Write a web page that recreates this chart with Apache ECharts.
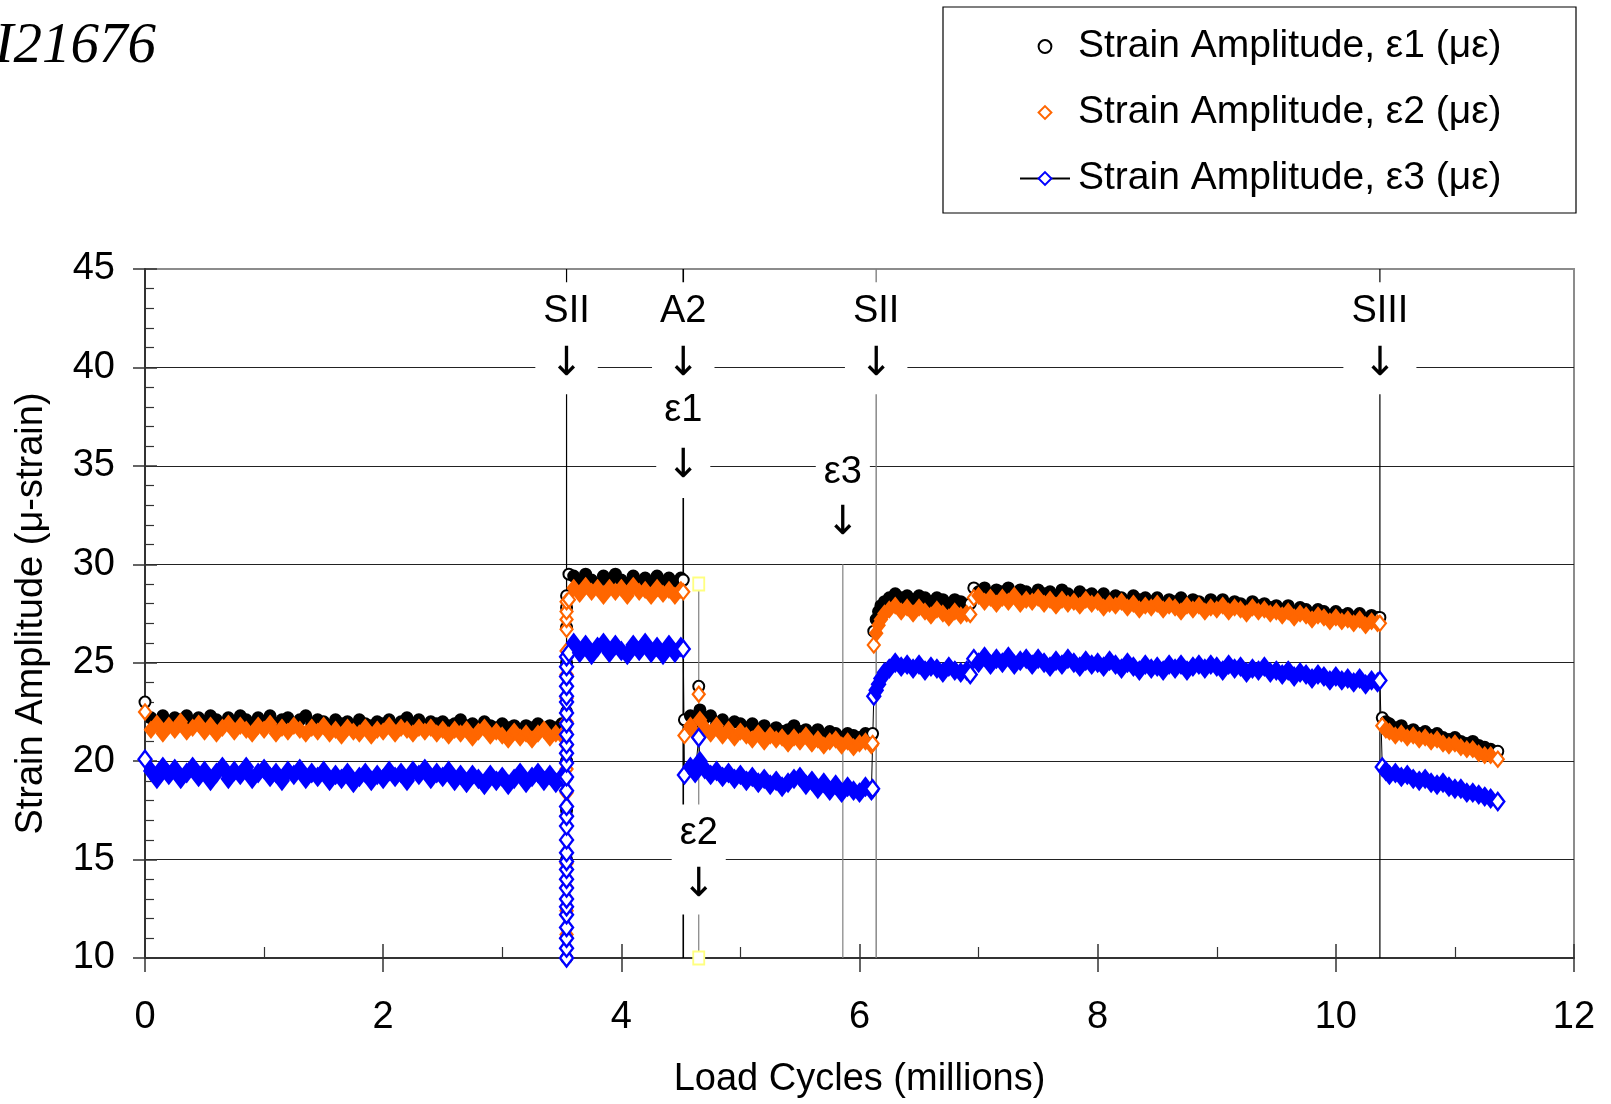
<!DOCTYPE html>
<html><head><meta charset="utf-8">
<script src="https://cdn.jsdelivr.net/npm/echarts@6/dist/echarts.min.js"></script>
<style>html,body{margin:0;padding:0;background:#fff}#chart{width:1611px;height:1104px}</style>
</head><body><div id="chart"></div>
<script>
// ---------- DATA (load cycles in millions, strain amplitude in micro-strain) ----------
const cyclesA = [0.00,0.05,0.10,0.15,0.20,0.25,0.30,0.35,0.40,0.45,
0.50,0.55,0.60,0.65,0.70,0.75,0.80,0.85,0.90,0.95,
1.00,1.05,1.10,1.15,1.20,1.25,1.30,1.35,1.40,1.45,
1.50,1.55,1.60,1.65,1.70,1.75,1.80,1.85,1.90,1.95,
2.00,2.05,2.10,2.15,2.20,2.25,2.30,2.35,2.40,2.45,
2.50,2.55,2.60,2.65,2.70,2.75,2.80,2.85,2.90,2.95,
3.00,3.05,3.10,3.15,3.20,3.25,3.30,3.35,3.40,3.45,
3.50,3.53];
const e1A = [23.0,22.2,22.0,22.3,21.9,22.2,22.1,22.3,21.9,22.2,
22.0,22.3,22.1,21.9,22.2,22.0,22.3,22.1,21.9,22.2,
22.0,22.3,21.9,22.1,22.2,21.9,22.1,22.3,21.9,22.1,
22.0,21.8,22.1,21.9,22.0,21.8,22.1,21.9,21.8,22.0,
21.9,22.1,21.8,22.0,22.2,21.9,22.1,21.8,22.0,21.9,
22.0,21.8,21.9,22.1,21.8,21.9,21.7,22.0,21.8,21.7,
21.9,21.7,21.8,21.6,21.8,21.7,21.9,21.6,21.8,21.7,
21.9,21.8];
const e2A = [22.5,21.6,21.9,21.4,21.8,21.6,22.0,21.5,21.7,21.9,
21.5,21.8,21.4,21.7,21.9,21.5,21.8,21.6,21.4,21.8,
21.6,21.9,21.4,21.7,21.5,21.8,21.6,21.4,21.7,21.5,
21.8,21.4,21.6,21.3,21.7,21.5,21.4,21.7,21.3,21.6,
21.5,21.8,21.4,21.7,21.6,21.4,21.7,21.5,21.7,21.4,
21.6,21.3,21.6,21.4,21.6,21.2,21.5,21.7,21.3,21.5,
21.3,21.1,21.5,21.2,21.4,21.1,21.4,21.6,21.2,21.4,
21.3,21.5];
const e3A = [20.1,19.5,19.1,19.7,19.3,19.6,19.1,19.4,19.7,19.2,
19.5,19.0,19.4,19.7,19.1,19.5,19.3,19.7,19.1,19.4,
19.6,19.2,19.4,19.0,19.5,19.3,19.6,19.1,19.4,19.2,
19.5,19.0,19.3,19.1,19.4,18.9,19.2,19.4,19.0,19.3,
19.1,19.5,19.2,19.4,19.0,19.5,19.3,19.6,19.1,19.4,
19.2,19.5,19.0,19.3,18.9,19.3,19.1,18.8,19.3,19.0,
19.2,18.8,19.1,19.4,18.9,19.2,19.4,19.0,19.3,18.9,
19.2,19.1];

// readings taken during the load step at 3.54 million cycles
const jumpCycle = 3.54;
const jumpE1 = [10.0,12.5,15.0,17.5,20.0,22.5,25.0,26.8,27.8,28.4];
const jumpE2 = [10.0,11.2,12.4,13.6,14.8,16.0,17.2,18.4,19.6,20.8,22.0,23.2,24.4,25.6,26.7,27.2,27.6,28.1];
const jumpE3 = [10.0,10.5,11.0,11.55,12.2,12.6,13.0,13.55,14.0,14.5,14.9,15.35,16.0,16.7,17.2,17.7,18.5,19.2,19.9,20.4,20.85,21.35,21.9,22.45,23.0,23.3,23.8,24.3,24.8,25.3];

const cyclesC = [3.56,3.60,3.65,3.70,3.75,3.80,3.85,3.90,3.95,4.00,4.05,4.10,4.15,4.20,4.25,4.30,4.35,4.40,4.45,4.50,4.52];
const e1C = [29.5,29.4,29.1,29.5,29.2,29.0,29.4,29.1,29.5,29.2,29.0,29.4,29.1,29.3,29.0,29.4,29.1,29.3,29.0,29.3,29.2];
const e2C = [28.2,28.8,28.5,28.9,28.6,28.8,28.4,28.8,28.6,28.8,28.4,28.9,28.6,28.7,28.4,28.8,28.5,28.7,28.4,28.7,28.6];
const e3C = [25.5,26.0,25.5,25.9,25.4,25.8,26.0,25.5,25.9,25.6,25.4,25.9,25.6,26.0,25.5,25.8,25.4,25.9,25.5,25.8,25.7];

const cyclesD = [4.53,4.58,4.62,4.65,4.66,4.70,4.75,4.80,4.85,4.90,4.95,5.00,5.05,5.10,5.15,5.20,5.25,5.30,5.35,5.40,5.45,5.50,5.55,5.60,5.65,5.70,5.75,5.80,5.85,5.90,5.95,6.00,6.05,6.10,6.11];
const e1D = [22.1,22.3,21.9,23.8,22.6,22.2,22.3,21.9,22.1,21.8,22.0,21.9,21.7,21.9,21.6,21.8,21.5,21.7,21.5,21.6,21.8,21.5,21.6,21.4,21.6,21.3,21.5,21.4,21.2,21.4,21.3,21.2,21.4,21.3,21.4];
const e2D = [21.3,21.8,21.4,23.4,22.1,21.7,21.4,21.8,21.3,21.6,21.2,21.5,21.3,21.1,21.4,21.0,21.3,21.1,21.2,20.9,21.2,21.0,21.3,20.9,21.1,20.8,21.0,21.1,20.8,21.0,20.7,20.9,21.0,20.8,20.9];
const e3D = [19.3,19.7,19.4,21.2,20.0,19.6,19.3,19.5,19.2,19.4,19.1,19.3,19.0,19.2,18.9,19.1,18.8,19.0,18.7,18.9,19.1,19.2,18.8,19.0,18.6,18.9,18.5,18.8,18.4,18.7,18.5,18.4,18.7,18.5,18.6];

const cyclesE = [6.12,6.14,6.16,6.18,6.21,6.25,6.30,6.35,6.40,6.45,6.50,6.55,6.60,6.65,6.70,6.75,6.80,6.85,6.90,6.93];
const e1E = [26.6,27.2,27.6,27.9,28.1,28.3,28.5,28.3,28.4,28.2,28.4,28.3,28.1,28.3,28.2,28.0,28.2,28.1,27.9,28.0];
const e2E = [25.9,26.5,26.9,27.2,27.5,27.7,27.9,27.6,27.8,27.5,27.8,27.6,27.4,27.7,27.5,27.3,27.6,27.4,27.5,27.45];
const e3E = [23.3,23.6,23.9,24.2,24.5,24.7,25.0,24.8,24.9,24.7,24.9,24.6,24.8,24.7,24.5,24.8,24.6,24.5,24.6,24.4];

const cyclesF = [6.96,
7.00,7.05,7.10,7.15,7.20,7.25,7.30,7.35,7.40,7.45,
7.50,7.55,7.60,7.65,7.70,7.75,7.80,7.85,7.90,7.95,
8.00,8.05,8.10,8.15,8.20,8.25,8.30,8.35,8.40,8.45,
8.50,8.55,8.60,8.65,8.70,8.75,8.80,8.85,8.90,8.95,
9.00,9.05,9.10,9.15,9.20,9.25,9.30,9.35,9.40,9.45,
9.50,9.55,9.60,9.65,9.70,9.75,9.80,9.85,9.90,9.95,
10.00,10.05,10.10,10.15,10.20,10.25,10.30,10.35,
10.37];
const e1F = [28.8,
28.6,28.8,28.5,28.7,28.6,28.8,28.5,28.7,28.6,28.4,
28.7,28.5,28.6,28.4,28.7,28.5,28.3,28.6,28.4,28.5,
28.3,28.5,28.2,28.4,28.3,28.1,28.4,28.2,28.3,28.1,
28.3,28.0,28.2,28.1,28.3,28.0,28.2,28.1,27.9,28.2,
28.0,28.2,27.9,28.1,28.0,27.8,28.1,27.9,28.0,27.8,
27.9,27.7,27.9,27.6,27.8,27.7,27.5,27.7,27.6,27.4,
27.6,27.4,27.5,27.3,27.5,27.2,27.4,27.3,
27.3];
const e2F = [28.3,
28.4,28.1,28.3,28.0,28.3,28.1,28.4,28.0,28.2,28.1,
28.3,28.0,28.2,27.9,28.2,28.0,28.1,27.9,28.2,28.0,
28.1,27.8,28.0,27.9,28.1,27.8,28.0,27.7,27.9,27.8,
28.0,27.7,27.9,27.8,27.6,27.9,27.7,27.9,27.6,27.8,
27.7,27.9,27.6,27.8,27.7,27.5,27.8,27.6,27.7,27.5,
27.6,27.4,27.6,27.3,27.5,27.4,27.2,27.4,27.3,27.1,
27.3,27.1,27.2,27.0,27.2,26.9,27.1,27.0,
27.0];
const e3F = [25.2,
25.0,25.3,24.9,25.2,25.0,25.3,24.9,25.1,25.2,24.9,
25.2,25.0,24.8,25.1,24.9,25.2,25.0,24.8,25.1,24.9,
25.0,24.8,25.1,24.9,24.7,25.0,24.8,24.6,24.9,24.7,
24.8,24.6,24.9,24.7,24.9,24.6,24.8,24.9,24.7,24.9,
24.8,24.6,24.9,24.7,24.8,24.5,24.7,24.6,24.8,24.5,
24.6,24.4,24.6,24.3,24.5,24.4,24.2,24.4,24.3,24.1,
24.3,24.1,24.2,24.0,24.2,23.9,24.1,24.0,
24.1];

const cyclesG = [10.39,10.42,10.45,10.50,10.55,10.60,10.65,10.70,10.75,10.80,10.85,10.90,10.95,11.00,11.05,11.10,11.15,11.20,11.25,11.30,11.36];
const e1G = [22.2,22.0,21.9,21.7,21.8,21.5,21.6,21.4,21.5,21.3,21.4,21.2,21.1,21.2,21.0,20.9,21.0,20.8,20.7,20.6,20.5];
const e2G = [21.8,21.6,21.5,21.3,21.4,21.2,21.3,21.1,21.2,21.0,21.1,20.9,20.8,20.9,20.7,20.6,20.6,20.4,20.3,20.3,20.1];
const e3G = [19.7,19.5,19.3,19.4,19.2,19.3,19.1,19.0,19.1,18.9,18.8,18.9,18.7,18.6,18.6,18.4,18.4,18.3,18.2,18.1,17.95];

// event markers (load cycles) and their labels
const eventCycles = [3.54, 4.52, 6.14, 10.37];
const eventLabels = ['SII', 'A2', 'SII', 'SIII'];
const gaugeCycles = [4.52, 5.86, 4.65];     // ε1, ε3, ε2 change points
const gaugeLabels = ['ε1', 'ε3', 'ε2'];
const gaugeLineTop = [null, 30, 29];        // ε3 and ε2 reference lines start here
const seriesNames = ['Strain Amplitude, ε1 (με)', 'Strain Amplitude, ε2 (με)', 'Strain Amplitude, ε3 (με)'];
const xTicks = {min: 0, max: 12, step: 2};
const yTicks = {min: 10, max: 45, step: 5};

// ---------- BUILD ----------
const FONT = '"Liberation Sans", Arial, Helvetica, sans-serif';
const HOLLOW = {color: '#fff'};
// densely sampled band points overlap into a solid band; the first/last reading of each
// run, isolated readings and the step readings show as open markers
function seg(xs, ys, extraHollow) {
  return xs.map((x, i) => {
    const open = i === 0 || i === xs.length - 1 || (extraHollow || []).includes(i);
    return open ? {value: [x, ys[i]], itemStyle: HOLLOW} : [x, ys[i]];
  });
}
function jump(ys) { return ys.map(y => ({value: [jumpCycle, y], itemStyle: HOLLOW})); }
function build(a, j, c, d, e, f, g) {
  return [].concat(seg(cyclesA, a), jump(j), seg(cyclesC, c), seg(cyclesD, d, [3]), seg(cyclesE, e), seg(cyclesF, f), seg(cyclesG, g));
}
const e1Data = build(e1A, jumpE1, e1C, e1D, e1E, e1F, e1G);
const e2Data = build(e2A, jumpE2, e2C, e2D, e2E, e2F, e2G);
const e3Data = build(e3A, jumpE3, e3C, e3D, e3E, e3F, e3G);

const clear = 'rgba(0,0,0,0)';
function dataSeries(name, data, symbol, size, color, bw, line) {
  return {
    name, type: 'line', data, z: 2, silent: true,
    symbol, symbolSize: size, showSymbol: true, showAllSymbol: true,
    itemStyle: {color: color, borderColor: color, borderWidth: bw},
    lineStyle: line ? {color: '#000', width: 1} : {color: clear, width: 0, opacity: 0},
    emphasis: {disabled: true}
  };
}
function vline(x, top, color, width, withSquares) {
  return {
    type: 'line', z: 1, silent: true, data: [[x, top], [x, yTicks.min]],
    symbol: withSquares ? 'rect' : 'none', symbolSize: [11, 13], showSymbol: !!withSquares,
    itemStyle: {color: '#fff', borderColor: '#FFFF80', borderWidth: 2},
    lineStyle: {color, width}, emphasis: {disabled: true}
  };
}

const series = [
  dataSeries(seriesNames[0], e1Data, 'circle', 11, '#000000', 2, false),
  dataSeries(seriesNames[1], e2Data, 'diamond', [12, 15], '#FF6600', 2.2, false),
  dataSeries(seriesNames[2], e3Data, 'diamond', [13, 17], '#0000FF', 2.4, true)
];
const eventColors = ['#000', '#000', '#808080', '#000'];
const eventWidths = [1.2, 1.6, 1.4, 1.2];
eventCycles.forEach((x, i) => series.push(vline(x, yTicks.max, eventColors[i], eventWidths[i], false)));
series.push(vline(gaugeCycles[1], gaugeLineTop[1], '#808080', 1.2, false));
series.push(vline(gaugeCycles[2], gaugeLineTop[2], '#808080', 1.2, true));

// annotation labels (text + arrow pointing down)
const eventLabelLevel = 41.48, gaugeLabelLevel = [36.37, 33.35, 15.0];
const annData = [];
eventCycles.forEach((x, i) => annData.push({name: eventLabels[i], value: [x, eventLabelLevel], lh: 53}));
gaugeCycles.forEach((x, i) => annData.push({name: gaugeLabels[i], value: [x, gaugeLabelLevel[i]], lh: [56, 51, 52][i]}));
series.push({
  type: 'scatter', z: 10, silent: true, symbolSize: 1, itemStyle: {color: '#fff', opacity: 1},
  data: annData.map(d => ({name: d.name, value: d.value, label: {
    rich: {t: {fontSize: 38, fontFamily: FONT, color: '#000', height: d.lh, lineHeight: d.lh, align: 'center'},
           a: {fontSize: 40, fontFamily: '"DejaVu Sans", sans-serif', color: '#000', height: d.lh, lineHeight: d.lh, align: 'center'}}}})),
  label: {show: true, position: 'inside', formatter: p => '{t|' + p.name + '}\n{a|↓}', color: '#000', opacity: 1,
          textBorderWidth: 0, backgroundColor: '#fff', padding: [3, 8], align: 'center', verticalAlign: 'middle'},
  emphasis: {disabled: true}
});

const axisLabelStyle = {fontSize: 38, fontFamily: FONT, color: '#000'};
const option = {
  animation: false,
  backgroundColor: '#fff',
  textStyle: {fontFamily: FONT},
  grid: {left: 145, right: 37, top: 269, bottom: 145, show: true, borderColor: '#8c8c8c', borderWidth: 2, containLabel: false},
  legend: {
    data: seriesNames, orient: 'vertical', left: 1014, top: 22, padding: 5,
    itemWidth: 50, itemHeight: 16, itemGap: 27, selectedMode: false,
    itemStyle: {color: '#fff', borderWidth: 2},
    textStyle: {fontSize: 39, fontFamily: FONT, color: '#000', padding: [0, 0, 0, 3]}
  },
  xAxis: [
    {type: 'value', min: xTicks.min, max: xTicks.max, interval: xTicks.step,
     name: 'Load Cycles (millions)', nameLocation: 'middle', nameGap: 103, nameTextStyle: axisLabelStyle,
     axisLine: {show: true, onZero: false, lineStyle: {color: '#333', width: 2}},
     axisTick: {show: true, inside: false, length: 14, lineStyle: {color: '#333', width: 1.5}},
     axisLabel: Object.assign({margin: 41}, axisLabelStyle),
     splitLine: {show: false}},
    {type: 'value', min: xTicks.min, max: xTicks.max, interval: xTicks.step, position: 'bottom',
     axisLine: {show: false}, axisLabel: {show: false}, splitLine: {show: false},
     axisTick: {show: true, inside: true, length: 14, lineStyle: {color: '#333', width: 1.5}},
     minorTick: {show: true, splitNumber: 2, length: 11, lineStyle: {color: '#333', width: 1.2}}}
  ],
  yAxis: [
    {type: 'value', min: yTicks.min, max: yTicks.max, interval: yTicks.step,
     name: 'Strain Amplitude (μ-strain)', nameLocation: 'middle', nameGap: 94, nameTextStyle: axisLabelStyle,
     axisLine: {show: true, onZero: false, lineStyle: {color: '#333', width: 2}},
     axisTick: {show: true, inside: false, length: 12, lineStyle: {color: '#333', width: 1.5}},
     axisLabel: Object.assign({margin: 30}, axisLabelStyle),
     splitLine: {show: true, showMinLine: false, showMaxLine: false, lineStyle: {color: '#222', width: 1.2}}},
    {type: 'value', min: yTicks.min, max: yTicks.max, interval: yTicks.step, position: 'left',
     axisLine: {show: false}, axisLabel: {show: false}, splitLine: {show: false},
     axisTick: {show: true, inside: true, length: 12, lineStyle: {color: '#333', width: 1.5}},
     minorTick: {show: true, splitNumber: 5, length: 9, lineStyle: {color: '#333', width: 1.2}}}
  ],
  graphic: [
    {type: 'rect', z: 100, shape: {x: 943, y: 7, width: 633, height: 206}, style: {fill: 'none', stroke: '#000', lineWidth: 1.2}},
    {type: 'text', z: 100, x: 156, y: 47, style: {text: 'I21676', font: 'italic 57px "Liberation Serif", "Times New Roman", serif', fill: '#000', align: 'right', verticalAlign: 'middle'}}
  ],
  series
};
const chart = echarts.init(document.getElementById('chart'), null, {renderer: 'canvas'});
chart.setOption(option);
</script></body></html>
